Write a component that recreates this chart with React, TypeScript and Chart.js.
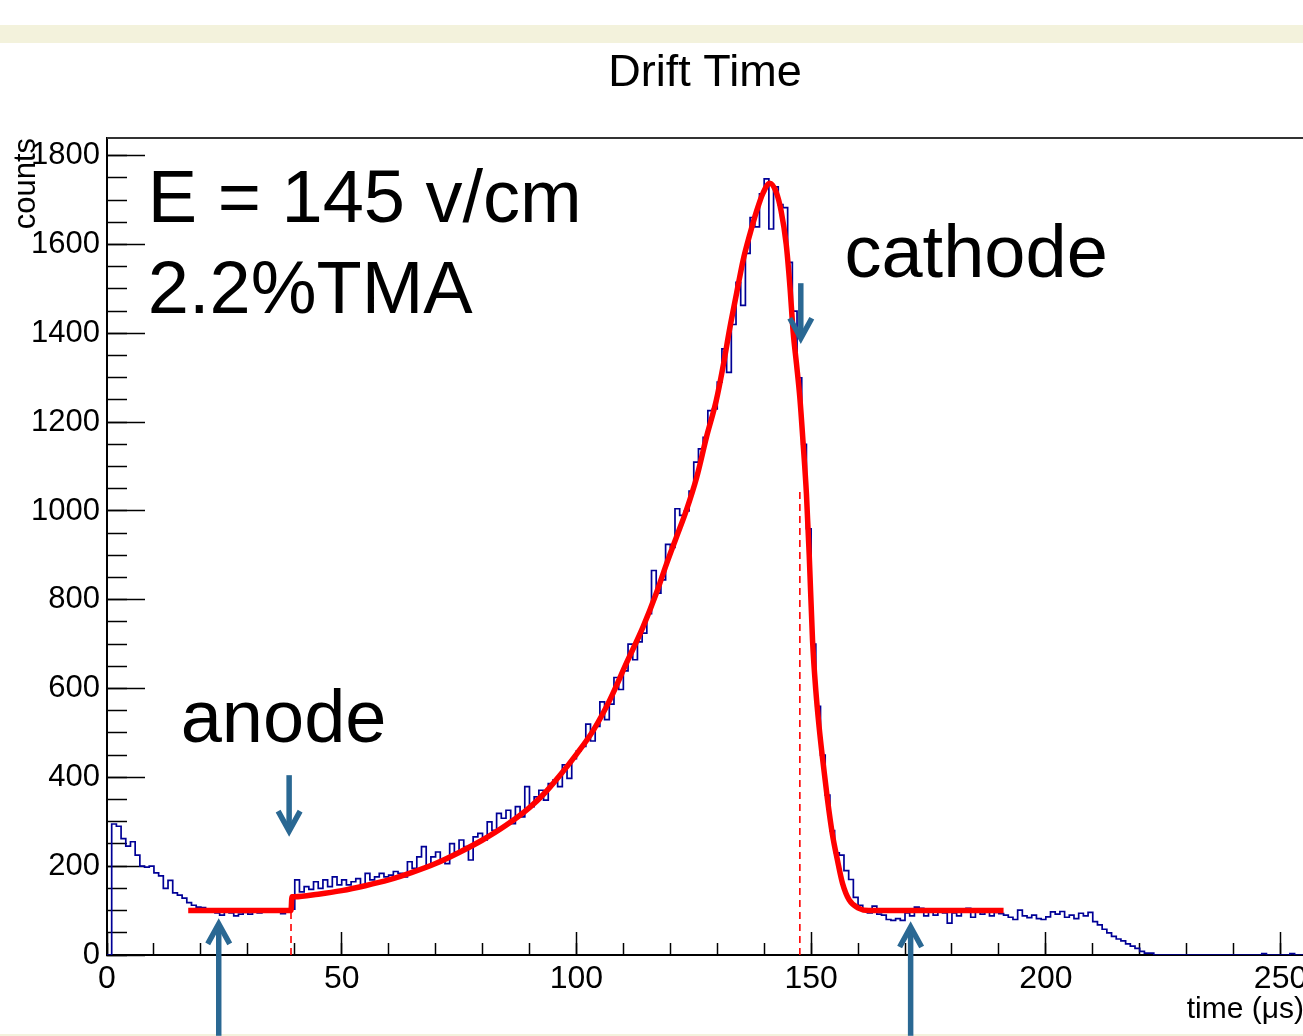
import React, { useEffect, useRef } from "react";
import { Chart, registerables } from "chart.js";

Chart.register(...registerables);

// ---------- data ----------
const TITLE = "Drift Time";
const X_TITLE = "time (\u03bcs)";
const Y_TITLE = "counts";

const BIN_WIDTH_US = 1;
const X_MIN = 0;
const X_MAX = 255;
const Y_MIN = 0;
const Y_MAX = 1840;

const xMajorTicks = [0, 50, 100, 150, 200, 250];
const xMinorTicks = [
  0, 10, 20, 30, 40, 50, 60, 70, 80, 90, 100, 110, 120, 130, 140, 150, 160, 170,
  180, 190, 200, 210, 220, 230, 240, 250,
];
const yMajorTicks = [0, 200, 400, 600, 800, 1000, 1200, 1400, 1600, 1800];
const yMinorTicks = [
  0, 50, 100, 150, 200, 250, 300, 350, 400, 450, 500, 550, 600, 650, 700, 750, 800,
  850, 900, 950, 1000, 1050, 1100, 1150, 1200, 1250, 1300, 1350, 1400, 1450, 1500,
  1550, 1600, 1650, 1700, 1750, 1800,
];

// histogram contents, one value per 1 µs bin starting at 0 µs
const counts = [
  0, 295, 290, 262, 245, 255, 225, 200, 198, 200,
  185, 178, 150, 168, 140, 135, 128, 118, 112, 108,
  107, 104, 98, 95, 90, 100, 95, 88, 92, 96,
  92, 97, 95, 100, 98, 100, 100, 93, 100, 103,
  169, 142, 154, 148, 165, 150, 169, 154, 176, 158,
  169, 158, 165, 172, 154, 184, 169, 176, 184, 176,
  180, 188, 184, 176, 210, 195, 221, 244, 199, 221,
  232, 214, 206, 251, 232, 259, 244, 214, 266, 274,
  259, 300, 281, 319, 308, 326, 296, 334, 311, 379,
  334, 356, 371, 349, 386, 394, 379, 428, 398, 442,
  460, 470, 520, 482, 515, 570, 530, 565, 625, 598,
  640, 700, 665, 705, 725, 769, 866, 815, 845, 925,
  918, 1005, 990, 1000, 1045, 1110, 1140, 1166, 1226, 1230,
  1290, 1365, 1312, 1420, 1515, 1463, 1580, 1661, 1640, 1714,
  1748, 1635, 1730, 1690, 1683, 1560, 1450, 1300, 1150, 960,
  700, 560, 450, 360, 280, 230, 225, 190, 170, 130,
  112, 100, 95, 110, 92, 90, 80, 78, 82, 78,
  95, 88, 108, 105, 88, 102, 90, 104, 95, 72,
  95, 88, 97, 105, 85, 98, 92, 100, 88, 96,
  93, 90, 85, 80, 101, 88, 84, 90, 82, 80,
  86, 97, 92, 98, 85, 90, 82, 94, 88, 96,
  75, 68, 58, 50, 42, 36, 32, 25, 20, 15,
  8, 4, 4, 0, 0, 0, 0, 0, 0, 0,
  0, 0, 0, 0, 0, 0, 0, 0, 0, 0,
  0, 0, 0, 0, 0, 0, 3, 0, 0, 0,
  0, 0, 3, 0, 0,
];

// fitted curve (red)
const fitTimes = [
  17.3, 39.2, 39.4, 40, 45, 50, 55, 60, 65, 70, 75, 80, 85, 90, 93, 96.5, 100,
  103.6, 107.1, 110.6, 114.2, 117, 119.2, 121.3, 123.4, 125.6, 127.7, 129.8,
  131.2, 132.7, 134.1, 135.5, 137, 138.4, 139.8, 141.2, 142.6, 143.6, 144.7,
  145.5, 146.2, 146.9, 147.6, 148.3, 149, 149.6, 150.3, 151, 151.7, 152.4,
  153.5, 154.5, 155.6, 156.7, 158.1, 160.2, 162.3, 191,
];
const fitCounts = [
  100, 100, 131, 131, 137, 145, 156, 169, 186, 206, 231, 259, 292, 332, 362, 405, 452,
  506, 574, 656, 739, 814, 881, 941, 1001, 1075, 1166, 1249,
  1323, 1413, 1489, 1564, 1625, 1676, 1717, 1738, 1717, 1676, 1600,
  1504, 1400, 1330, 1255, 1152, 1039, 900, 709, 596, 514, 446,
  349, 274, 214, 161, 124, 105, 100, 100,
];

// dashed markers (anode / cathode times)
const markerTimes = [39.2, 147.6];
const markerHeights = [97, 1054];

// annotation texts (anchored in data coordinates: left / baseline)
const noteTexts = ["E = 145 v/cm", "2.2%TMA", "cathode", "anode"];
const noteTimes = [8.7, 8.7, 157.1, 15.7];
const noteCounts = [1650, 1447, 1528, 479];

// arrows (time, tip count, tail count)
const arrowTimes = [38.8, 147.8, 23.8, 171.2];
const arrowTips = [270, 1380, 79, 72];
const arrowTails = [405, 1513, -182, -182];

// ---------- styles ----------
const FONT = "'Liberation Sans', Arial, Helvetica, sans-serif";
const HIST_COLOR = "rgb(0,0,150)";
const FIT_COLOR = "rgb(255,0,0)";
const ARROW_COLOR = "#2a6893";

const notesPlugin = {
  id: "notes",
  afterDraw(chart: any) {
    const { ctx, chartArea: a } = chart;
    const x = chart.scales.x;
    const y = chart.scales.y;
    ctx.save();
    // frame (top + right)
    ctx.strokeStyle = "#333";
    ctx.lineWidth = 2;
    ctx.beginPath();
    ctx.moveTo(a.left, a.top);
    ctx.lineTo(a.right, a.top);
    ctx.lineTo(a.right, a.bottom);
    ctx.stroke();

    // title
    ctx.fillStyle = "#000";
    ctx.font = `45px ${FONT}`;
    ctx.textAlign = "center";
    ctx.textBaseline = "alphabetic";
    ctx.fillText(TITLE, 705, 86);

    // notes
    ctx.font = `74px ${FONT}`;
    ctx.textAlign = "left";
    noteTexts.forEach((s, i) => {
      ctx.fillText(s, x.getPixelForValue(noteTimes[i]), y.getPixelForValue(noteCounts[i]));
    });

    // arrows
    ctx.strokeStyle = ARROW_COLOR;
    ctx.lineWidth = 5.5;
    ctx.lineCap = "butt";
    ctx.lineJoin = "miter";
    arrowTimes.forEach((t, i) => {
      const px = x.getPixelForValue(t);
      const tip = y.getPixelForValue(arrowTips[i]);
      const tail = y.getPixelForValue(arrowTails[i]);
      const dir = tail > tip ? 1 : -1;
      const apex = tip + dir * 4;
      ctx.beginPath();
      ctx.moveTo(px, tail);
      ctx.lineTo(px, apex + dir * 2);
      ctx.stroke();
      ctx.beginPath();
      ctx.moveTo(px - 11, apex + dir * 20);
      ctx.lineTo(px, apex);
      ctx.lineTo(px + 11, apex + dir * 20);
      ctx.stroke();
    });
    ctx.restore();
  },
};

const setTicks = (values: number[]) => (s: any) => {
  s.ticks = values.map((v) => ({ value: v }));
};

export default function App() {
  const ref = useRef<HTMLCanvasElement | null>(null);

  useEffect(() => {
    const canvas = ref.current;
    if (!canvas) return;
    Chart.defaults.font.family = FONT;

    const histData = counts.map((c, i) => ({ x: X_MIN + i * BIN_WIDTH_US, y: c }));
    histData.push({ x: X_MIN + counts.length * BIN_WIDTH_US, y: counts[counts.length - 1] });
    const fitData = fitTimes.map((t, i) => ({ x: t, y: fitCounts[i] }));

    const markerSets = markerTimes.map((t, i) => ({
      label: "marker" + i,
      data: [
        { x: t, y: 0 },
        { x: t, y: markerHeights[i] },
      ],
      borderColor: FIT_COLOR,
      borderWidth: 1.6,
      borderDash: [7, 5],
      pointRadius: 0,
      fill: false,
      order: 1,
    }));

    const chart = new Chart(canvas, {
      type: "line",
      data: {
        datasets: [
          {
            label: "fit",
            data: fitData,
            borderColor: FIT_COLOR,
            borderWidth: 5.5,
            pointRadius: 0,
            cubicInterpolationMode: "monotone",
            fill: false,
            order: 0,
          },
          ...markerSets,
          {
            label: "hist",
            data: histData,
            borderColor: HIST_COLOR,
            borderWidth: 1.7,
            pointRadius: 0,
            stepped: true,
            tension: 0,
            fill: false,
            order: 2,
          },
        ],
      },
      options: {
        animation: false,
        responsive: false,
        events: [],
        layout: { padding: { top: 138, right: 16, left: 0, bottom: 0 } },
        plugins: {
          legend: { display: false },
          tooltip: { enabled: false },
          title: { display: false },
        },
        scales: {
          x: {
            type: "linear",
            position: "bottom",
            min: X_MIN,
            max: X_MAX,
            weight: 1,
            afterBuildTicks: setTicks(xMajorTicks),
            ticks: {
              autoSkip: false,
              maxRotation: 0,
              padding: 28,
              color: "#000",
              font: { family: FONT, size: 32 },
              callback: (v: any) => String(v),
            },
            grid: { drawOnChartArea: false, drawTicks: true, tickLength: -23, color: "#000", tickWidth: 1.5 },
            border: { display: true, color: "#000", width: 2 },
            title: {
              display: true,
              text: X_TITLE,
              align: "end",
              color: "#000",
              font: { family: FONT, size: 30 },
              padding: { top: 0, bottom: 8 },
            },
            afterFit: (s: any) => {
              s.height = 81;
              s.paddingLeft = 0;
              s.paddingRight = 0;
            },
          },
          x2: {
            type: "linear",
            axis: "x",
            position: "bottom",
            min: X_MIN,
            max: X_MAX,
            weight: 0,
            afterBuildTicks: setTicks(xMinorTicks),
            ticks: { display: false },
            grid: { drawOnChartArea: false, drawTicks: true, tickLength: -12, color: "#000", tickWidth: 1.5 },
            border: { display: false },
            afterFit: (s: any) => {
              s.height = 0;
              s.paddingLeft = 0;
              s.paddingRight = 0;
            },
          },
          y: {
            type: "linear",
            position: "left",
            min: Y_MIN,
            max: Y_MAX,
            weight: 1,
            afterBuildTicks: setTicks(yMajorTicks),
            ticks: {
              autoSkip: false,
              padding: 45,
              color: "#000",
              font: { family: FONT, size: 31 },
              callback: (v: any) => String(v),
            },
            grid: { drawOnChartArea: false, drawTicks: true, tickLength: -38, color: "#000", tickWidth: 1.5 },
            border: { display: true, color: "#000", width: 2 },
            title: {
              display: true,
              text: Y_TITLE,
              align: "end",
              color: "#000",
              font: { family: FONT, size: 31 },
              padding: { top: 8, bottom: 0 },
            },
            afterFit: (s: any) => {
              s.width = 107;
              s.paddingTop = 0;
              s.paddingBottom = 0;
            },
          },
          y2: {
            type: "linear",
            axis: "y",
            position: "left",
            min: Y_MIN,
            max: Y_MAX,
            weight: 0,
            afterBuildTicks: setTicks(yMinorTicks),
            ticks: { display: false },
            grid: { drawOnChartArea: false, drawTicks: true, tickLength: -20, color: "#000", tickWidth: 1.5 },
            border: { display: false },
            afterFit: (s: any) => {
              s.width = 0;
              s.paddingTop = 0;
              s.paddingBottom = 0;
            },
          },
        },
      },
      plugins: [notesPlugin],
    } as any);

    return () => chart.destroy();
  }, []);

  return (
    <div
      style={{
        position: "absolute",
        left: 0,
        top: 0,
        width: 1303,
        height: 1036,
        overflow: "hidden",
        background: "#ffffff",
      }}
    >
      <div style={{ position: "absolute", left: 0, top: 25, width: 1303, height: 18, background: "#f3f2dc" }} />
      <div style={{ position: "absolute", left: 0, top: 1034, width: 1303, height: 2, background: "#f3f2dc" }} />
      <canvas ref={ref} width={1320} height={1036} style={{ position: "absolute", left: 0, top: 0 }} />
    </div>
  );
}
